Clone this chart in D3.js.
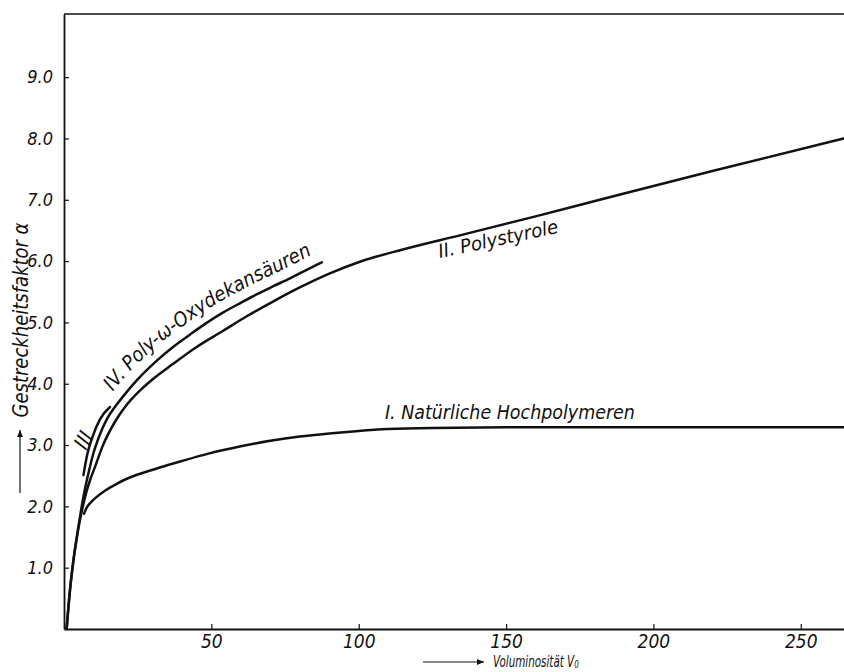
<!DOCTYPE html>
<html>
<head>
<meta charset="utf-8">
<script src="https://cdn.jsdelivr.net/npm/d3@7"></script>
<style>
  body { margin: 0; background: #fff; }
  text { font-family: "DejaVu Sans Condensed", "DejaVu Sans", sans-serif; font-style: italic; fill: #111; }
</style>
</head>
<body>
<svg id="chart" width="844" height="672"></svg>
<script>
// tick values
const xTicks = [50, 100, 150, 200, 250];
const yTicks = [1, 2, 3, 4, 5, 6, 7, 8, 9];

// I. Natürliche Hochpolymeren
const xI = [6.8, 7.6, 9, 11, 14, 17.6, 20.4, 25, 29, 35, 40, 49, 60, 70, 80, 90, 100, 110, 125, 150, 200, 265];
const yI = [1.88, 1.97, 2.06, 2.15, 2.26, 2.36, 2.43, 2.52, 2.58, 2.67, 2.74, 2.86, 2.98, 3.07, 3.14, 3.19, 3.23, 3.26, 3.28, 3.29, 3.29, 3.29];

// II. Polystyrole
const xII = [0.9, 2, 3.2, 4.4, 5.5, 6.6, 7.7, 9, 10.5, 13, 17.3, 20.7, 25.8, 30, 36.9, 45, 53.9, 62, 70.9, 80, 90.2, 100.4, 115, 134.3, 160, 181.8, 220, 264.5];
const yII = [0, 0.62, 1.12, 1.5, 1.8, 2.04, 2.25, 2.45, 2.64, 2.97, 3.38, 3.62, 3.89, 4.07, 4.32, 4.6, 4.86, 5.1, 5.34, 5.57, 5.8, 5.99, 6.19, 6.42, 6.73, 7.0, 7.47, 8.0];

// III
const xIII = [6.6, 7.9, 9.8, 12.2, 15.6];
const yIII = [2.51, 2.85, 3.15, 3.42, 3.62];

// IV. Poly-ω-Oxydekansäuren
const xIV = [0.9, 2, 3.2, 4.4, 5.5, 6.3, 7.1, 8.2, 10, 12, 14.5, 17.9, 20, 25, 31.6, 37, 42.7, 48, 53.9, 60, 65.5, 71, 76.7, 82, 87.5];
const yIV = [0, 0.62, 1.12, 1.52, 1.85, 2.08, 2.28, 2.52, 2.87, 3.15, 3.42, 3.66, 3.79, 4.07, 4.38, 4.6, 4.8, 4.98, 5.16, 5.32, 5.46, 5.59, 5.72, 5.85, 5.98];

const zip = (xs, ys) => xs.map((v, i) => [v, ys[i]]);

const svg = d3.select("#chart");
const x = d3.scaleLinear().domain([0, 265]).range([64, 845]);
const y = d3.scaleLinear().domain([0, 10.03]).range([629, 14]);

// frame top
svg.append("line")
  .attr("x1", x(0)).attr("x2", 844).attr("y1", y(10.03)).attr("y2", y(10.03))
  .attr("stroke", "#111").attr("stroke-width", 1.5);

// axes
const xAxis = svg.append("g")
  .attr("transform", "translate(0," + y(0) + ")")
  .call(d3.axisBottom(x).tickValues(xTicks).tickSizeInner(-5).tickSizeOuter(0).tickPadding(6));
xAxis.selectAll("text").style("font-size", "19px");

const yAxis = svg.append("g")
  .attr("transform", "translate(" + x(0) + ",0)")
  .call(d3.axisLeft(y).tickValues(yTicks).tickSizeInner(-5).tickSizeOuter(0).tickPadding(11)
    .tickFormat(d3.format(".1f")));
yAxis.selectAll("text").style("font-size", "18px");

svg.selectAll(".domain").attr("stroke", "#111").attr("stroke-width", 1.8);
svg.selectAll(".tick line").attr("stroke", "#111").attr("stroke-width", 1.2);

// curves
const line = d3.line().x(d => x(d[0])).y(d => y(d[1])).curve(d3.curveMonotoneX);
const curves = [zip(xI, yI), zip(xII, yII), zip(xIII, yIII), zip(xIV, yIV)];
const paths = svg.append("g").selectAll("path")
  .data(curves)
  .enter()
  .append("path")
  .attr("d", line)
  .attr("fill", "none")
  .attr("stroke", "#111")
  .attr("stroke-width", 2.5)
  .attr("stroke-linecap", "round");

// label along curve IV (offset path)
const ivNode = paths.nodes()[3];
const L = ivNode.getTotalLength();
const off = [];
for (let s = 0; s <= L; s += 2) {
  const p = ivNode.getPointAtLength(s);
  const q = ivNode.getPointAtLength(Math.min(L, s + 1.5));
  const r = ivNode.getPointAtLength(Math.max(0, s - 1.5));
  const dx = q.x - r.x, dy = q.y - r.y, n = Math.hypot(dx, dy) || 1;
  off.push([p.x + dy / n * 11, p.y - dx / n * 11]);
}
const offLen = [0];
for (let i = 1; i < off.length; i++) offLen.push(offLen[i - 1] + Math.hypot(off[i][0] - off[i - 1][0], off[i][1] - off[i - 1][1]));
const iStart = off.findIndex(p => p[0] >= 112);
const iEnd = off.findIndex(p => p[0] >= 317);
svg.append("defs").append("path")
  .attr("id", "ivOff")
  .attr("d", d3.line()(off));
svg.append("text")
  .style("font-size", "20px")
  .append("textPath")
  .attr("href", "#ivOff")
  .attr("startOffset", offLen[iStart])
  .attr("textLength", offLen[iEnd] - offLen[iStart])
  .attr("lengthAdjust", "spacingAndGlyphs")
  .text("IV. Poly-ω-Oxydekansäuren");

// other curve labels
svg.append("text")
  .attr("x", x(108.9)).attr("y", y(3.42))
  .attr("textLength", 250).attr("lengthAdjust", "spacingAndGlyphs")
  .style("font-size", "20px")
  .text("I. Natürliche Hochpolymeren");

svg.append("text")
  .attr("transform", "translate(" + x(127.5) + "," + y(6.05) + ") rotate(-12)")
  .attr("textLength", 122).attr("lengthAdjust", "spacingAndGlyphs")
  .style("font-size", "19px")
  .text("II. Polystyrole");

svg.append("text")
  .attr("transform", "translate(" + x(6.6) + "," + y(3.08) + ") rotate(-62)")
  .attr("text-anchor", "middle")
  .attr("dy", "0.35em")
  .style("font-size", "21px")
  .text("III");

// axis titles with arrows
const arrow = (x1, y1, x2, y2) => {
  const a = Math.atan2(y2 - y1, x2 - x1), h = 7, w = 3;
  svg.append("line").attr("x1", x1).attr("y1", y1).attr("x2", x2).attr("y2", y2)
    .attr("stroke", "#111").attr("stroke-width", 1.2);
  const p1 = [x2 - h * Math.cos(a) + w * Math.sin(a), y2 - h * Math.sin(a) - w * Math.cos(a)];
  const p2 = [x2 - h * Math.cos(a) - w * Math.sin(a), y2 - h * Math.sin(a) + w * Math.cos(a)];
  svg.append("path").attr("d", "M" + [x2, y2] + "L" + p1 + "L" + p2 + "Z").attr("fill", "#111");
};

arrow(423, 662, 484, 662);
const xt = svg.append("text")
  .attr("transform", "translate(493,667) scale(0.72,1)")
  .style("font-size", "16px");
xt.append("tspan").text("Voluminosität V");
xt.append("tspan").attr("dy", 1).style("font-size", "11px").text("0");

arrow(20, 493, 20, 430);
svg.append("text")
  .attr("transform", "translate(28,320) rotate(-90)")
  .attr("text-anchor", "middle")
  .attr("textLength", 195).attr("lengthAdjust", "spacingAndGlyphs")
  .style("font-size", "21px")
  .text("Gestreckheitsfaktor α");
</script>
</body>
</html>
